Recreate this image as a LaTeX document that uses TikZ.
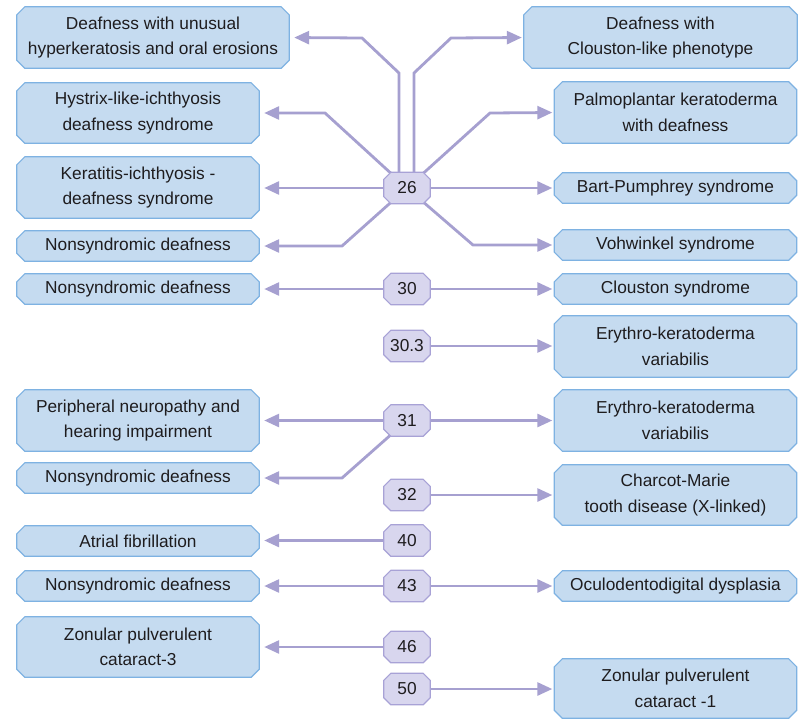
\documentclass[tikz,border=0pt]{standalone}
\usepackage{fontspec}
\setmainfont{Liberation Sans}
\usetikzlibrary{arrows.meta,backgrounds}
\definecolor{boxfill}{RGB}{197,219,240}
\definecolor{boxline}{RGB}{126,178,226}
\definecolor{hubfill}{RGB}{216,214,238}
\definecolor{hubline}{RGB}{168,162,214}
\definecolor{linkc}{RGB}{166,160,208}
\definecolor{ink}{RGB}{30,28,30}
\pgfdeclarelayer{links}
\pgfsetlayers{links,background,main}
% chamfered outline around a named node: name, chamfer, fill, border
\newcommand\octbox[4]{%
  \filldraw[fill=#3,draw=#4,line width=1.2pt]
    ([xshift=#2]#1.north west) -- ([xshift=-#2]#1.north east)
    -- ([yshift=-#2]#1.north east) -- ([yshift=#2]#1.south east)
    -- ([xshift=-#2]#1.south east) -- ([xshift=#2]#1.south west)
    -- ([yshift=#2]#1.south west) -- ([yshift=-#2]#1.north west) -- cycle;}
\begin{document}
\begin{tikzpicture}[x=1pt,y=-1pt,
  txt/.style={font=\fontsize{17.3}{25.5}\selectfont, text=ink, align=center,
    inner sep=0pt, rectangle},
  dis/.style={txt, minimum width=242pt, minimum height=#1},
  dis/.default=30pt,
  hub/.style={txt, minimum width=46pt, minimum height=31pt},
  link/.style={draw=linkc, line width=2.8pt,
    -{Triangle[length=15pt,width=13pt]}},
  toleft/.style={link, shorten >=5pt},
  toright/.style={link, shorten >=2pt}]
\path[use as bounding box] (0,0) rectangle (806,718);

% left column
\node[dis=61pt, minimum width=272pt] (L1) at (153,37.5) {Deafness with unusual\\hyperkeratosis and oral erosions};
\node[dis=60pt] (L2) at (138,113) {Hystrix-like-ichthyosis\\deafness syndrome};
\node[dis=61pt] (L3) at (138,187.5) {Keratitis-ichthyosis -\\deafness syndrome};
\node[dis] (L4) at (138,246) {Nonsyndromic deafness};
\node[dis] (L5) at (138,289) {Nonsyndromic deafness};
\node[dis=61pt] (L6) at (138,420.5) {Peripheral neuropathy and\\hearing impairment};
\node[dis] (L7) at (138,478) {Nonsyndromic deafness};
\node[dis] (L8) at (138,541) {Atrial fibrillation};
\node[dis] (L9) at (138,586) {Nonsyndromic deafness};
\node[dis=60pt] (L10) at (138,647) {Zonular pulverulent\\cataract-3};

% right column
\node[dis=61pt, minimum width=273pt] (R1) at (660.5,37.5) {Deafness with\\Clouston-like phenotype};
\node[dis=61pt] (R2) at (675.5,112.5) {Palmoplantar keratoderma\\with deafness};
\node[dis] (R3) at (675.5,188) {Bart-Pumphrey syndrome};
\node[dis] (R4) at (675.5,245) {Vohwinkel syndrome};
\node[dis] (R5) at (675.5,289) {Clouston syndrome};
\node[dis=61pt] (R6) at (675.5,346.5) {Erythro-keratoderma\\variabilis};
\node[dis=61pt] (R7) at (675.5,420.5) {Erythro-keratoderma\\variabilis};
\node[dis=60pt] (R8) at (675.5,495) {Charcot-Marie\\tooth disease (X-linked)};
\node[dis] (R9) at (675.5,586) {Oculodentodigital dysplasia};
\node[dis=59pt] (R10) at (675.5,688.5) {Zonular pulverulent\\cataract -1};

% gene hubs
\node[hub] (h26) at (407,188) {26};
\node[hub] (h30) at (407,289) {30};
\node[hub] (h303) at (407,346) {30.3};
\node[hub] (h31) at (407,420.5) {31};
\node[hub] (h32) at (407,495) {32};
\node[hub] (h40) at (407,540.5) {40};
\node[hub] (h43) at (407,586) {43};
\node[hub] (h46) at (407,647) {46};
\node[hub] (h50) at (407,689) {50};

\begin{pgfonlayer}{background}
  \foreach \n in {L1,L2,L3,L4,L5,L6,L7,L8,L9,L10,R1,R2,R3,R4,R5,R6,R7,R8,R9,R10}
    {\octbox{\n}{8pt}{boxfill}{boxline}}
  \foreach \n in {h26,h30,h303,h31,h32,h40,h43,h46,h50}
    {\octbox{\n}{7pt}{hubfill}{hubline}}
\end{pgfonlayer}

\begin{pgfonlayer}{links}
  \fill[white] (0,0) rectangle (806,718);
  % connexin 26
  \draw[toleft] ([xshift=-8pt]h26.center) -- (399,73) -- (362,38) -- (L1.east);
  \draw[toright] ([xshift=7pt]h26.center) -- (414,73) -- (451,38) -- (R1.west);
  \draw[toleft] (h26.center) -- (325,113) -- (L2.east);
  \draw[toright] (h26.center) -- (490,113) -- (R2.west);
  \draw[toleft] (h26.center) -- (h26.center -| L3.east);
  \draw[toright] (h26.center) -- (h26.center -| R3.west);
  \draw[toleft] (h26.center) -- (342,246) -- (L4.east);
  \draw[toright] (h26.center) -- (473,245) -- (R4.west);
  % connexin 30 and 30.3
  \draw[toleft] (h30.center) -- (h30.center -| L5.east);
  \draw[toright] (h30.center) -- (h30.center -| R5.west);
  \draw[toright] (h303.center) -- (h303.center -| R6.west);
  % connexin 31
  \draw[toleft] (h31.center) -- (h31.center -| L6.east);
  \draw[toright] (h31.center) -- (h31.center -| R7.west);
  \draw[toleft] (h31.center) -- (342,478) -- (L7.east);
  % connexins 32 to 50
  \draw[toright] (h32.center) -- (h32.center -| R8.west);
  \draw[toleft] (h40.center) -- (h40.center -| L8.east);
  \draw[toleft] (h43.center) -- (h43.center -| L9.east);
  \draw[toright] (h43.center) -- (h43.center -| R9.west);
  \draw[toleft] (h46.center) -- (h46.center -| L10.east);
  \draw[toright] (h50.center) -- (h50.center -| R10.west);
\end{pgfonlayer}
\end{tikzpicture}
\end{document}
